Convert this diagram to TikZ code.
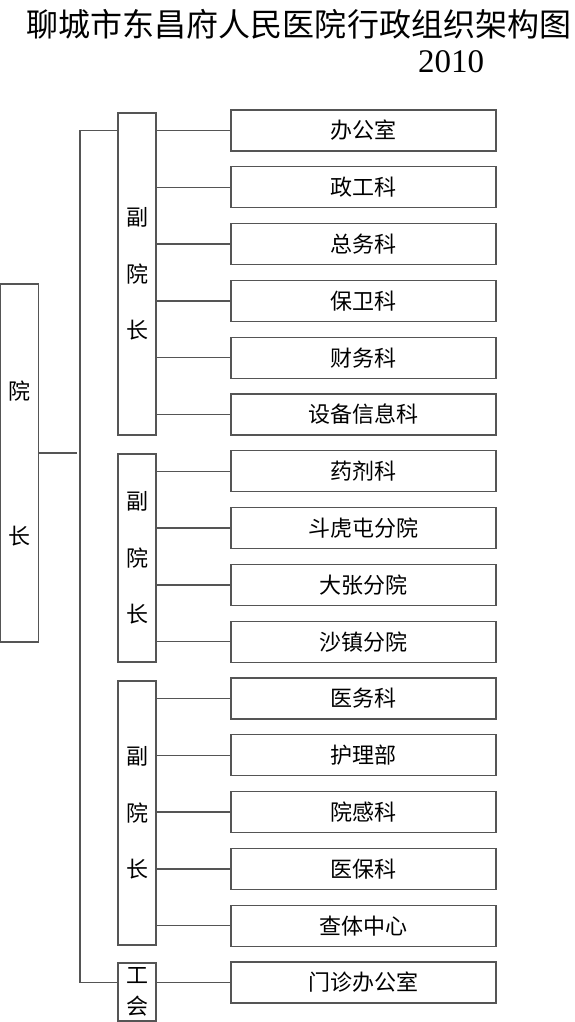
\documentclass[tikz,border=0pt]{standalone}
\usepackage{fontspec}
\newfontfamily\cjk{Noto Sans CJK SC}
\newfontfamily\numfont{Liberation Serif}
\definecolor{linec}{RGB}{85,85,85}
\begin{document}
\begin{tikzpicture}[x=1pt,y=-1pt,
  rbox/.style={draw=linec,line width=1.3pt,rectangle,minimum width=265pt,minimum height=41pt,inner sep=0pt,
    font=\cjk\fontsize{22}{22}\selectfont,text=black},
  vbox/.style={draw=linec,line width=1.3pt,rectangle,minimum width=38pt,inner sep=0pt,align=center,
    font=\cjk\fontsize{22}{56.5}\selectfont,text=black},
  conn/.style={draw=linec,line width=1.3pt}]
\useasboundingbox (0,0) rectangle (574,1022);
\node[font=\cjk\fontsize{32}{32}\selectfont,text=black,inner sep=0pt] (title) at (299,24) {聊城市东昌府人民医院行政组织架构图};
\node[font=\numfont\fontsize{33}{33}\selectfont,text=black,inner sep=0pt] (year) at (451,62) {2010};
% president
\node[vbox,minimum height=358pt,font=\cjk\fontsize{22}{145}\selectfont] (yz) at (19.5,463) {院\\长};
% vice presidents
\node[vbox,minimum height=322pt] (vp1) at (137,274) {副\\院\\长};
\node[vbox,minimum height=208pt] (vp2) at (137,558) {副\\院\\长};
\node[vbox,minimum height=264pt] (vp3) at (137,813) {副\\院\\长};
\node[vbox,minimum height=58pt,font=\cjk\fontsize{22}{31}\selectfont] (gh) at (137,992) {工\\会};
% departments
\foreach \i/\t in {0/办公室,1/政工科,2/总务科,3/保卫科,4/财务科,5/设备信息科,6/药剂科,7/斗虎屯分院,8/大张分院,9/沙镇分院,10/医务科,11/护理部,12/院感科,13/医保科,14/查体中心,15/门诊办公室}{
  \node[rbox] (r\i) at (363.5,{130.5+56.8*\i}) {\t};
}
% connectors vp -> departments
\foreach \i in {0,...,5}{\draw[conn] (r\i.west) -- (r\i.west -| vp1.east);}
\foreach \i in {6,...,9}{\draw[conn] (r\i.west) -- (r\i.west -| vp2.east);}
\foreach \i in {10,...,14}{\draw[conn] (r\i.west) -- (r\i.west -| vp3.east);}
\draw[conn] (r15.west) -- (r15.west -| gh.east);
% trunk
\coordinate (tr) at (80,453);
\coordinate (yzend) at (77,453);
\draw[conn] (vp1.west |- r0.west) -| (tr) |- (gh.west |- r15.west);
\draw[conn] (yz.east |- yzend) -- (yzend);
\end{tikzpicture}
\end{document}
